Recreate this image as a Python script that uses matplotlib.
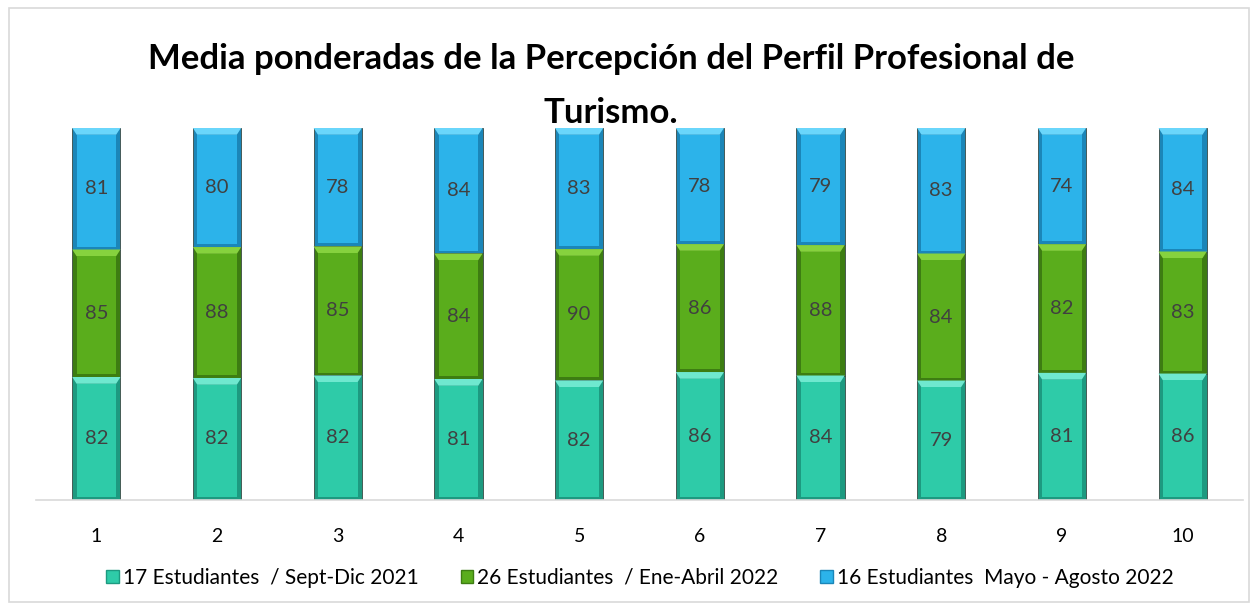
import matplotlib
matplotlib.use("Agg")
import matplotlib.pyplot as plt
from matplotlib.patches import Rectangle, Patch, Polygon
import numpy as np

categories = ["1", "2", "3", "4", "5", "6", "7", "8", "9", "10"]
sept_dic_2021 = [82, 82, 82, 81, 82, 86, 84, 79, 81, 86]
ene_abril_2022 = [85, 88, 85, 84, 90, 86, 88, 84, 82, 83]
mayo_agosto_2022 = [81, 80, 78, 84, 83, 78, 79, 83, 74, 84]
series_names = ["17 Estudiantes  / Sept-Dic 2021",
                "26 Estudiantes  / Ene-Abril 2022",
                "16 Estudiantes  Mayo - Agosto 2022"]
title_text = "Media ponderadas de la Percepción del Perfil Profesional de\nTurismo."

colors = ["#2ecba8", "#5aad1c", "#2cb3ea"]
light = ["#6fe8cf", "#86d23e", "#6ad6fb"]
dark = ["#1d9a80", "#3d7d12", "#1b86b8"]

plt.rcParams['font.family'] = ['Lato', 'DejaVu Sans']

fig = plt.figure(figsize=(12.56, 6.09), dpi=100)
fig.patches.append(Rectangle((9/1256, 7/609), 1240/1256, 594/609, transform=fig.transFigure,
                             fill=False, edgecolor="#d9d9d9", linewidth=1.2))

ax = fig.add_axes([36/1256, 1 - 500/609, (1243-36)/1256, (500-128)/609])
data = np.array([sept_dic_2021, ene_abril_2022, mayo_agosto_2022], dtype=float)
totals = data.sum(axis=0)
frac = data / totals
x = np.arange(len(categories))
w = 0.40
bottom = np.zeros(len(categories))
for i in range(3):
    bars = ax.bar(x, frac[i], w, bottom=bottom, color=dark[i], edgecolor="#3a4a44",
                  linewidth=0.6, label=series_names[i], zorder=2)
    for j, b in enumerate(bars):
        bx = b.get_x(); by = b.get_y(); bh = b.get_height(); bw = b.get_width()
        inx = bw * 0.09
        top_in = 0.018
        bot_in = 0.008
        ax.add_patch(Polygon([(bx, by + bh), (bx + bw, by + bh),
                              (bx + bw - inx, by + bh - top_in), (bx + inx, by + bh - top_in)],
                             closed=True, facecolor=light[i], edgecolor="none", zorder=3))
        ax.add_patch(Rectangle((bx + inx, by + bot_in), bw - 2 * inx, bh - top_in - bot_in,
                               facecolor=colors[i], edgecolor="none", zorder=3))
        ax.text(bx + bw/2, by + bh/2, f"{int(data[i, j])}", ha="center", va="center",
                fontsize=14.5, color="#404040", zorder=4)
    bottom += frac[i]

ax.set_xlim(-0.5, 9.5)
ax.set_ylim(0, 1)
ax.set_yticks([])
ax.set_xticks(x)
ax.set_xticklabels(categories, fontsize=14, color="#000000")
ax.tick_params(axis="x", length=0, pad=20)
for s in ["top", "left", "right"]:
    ax.spines[s].set_visible(False)
ax.spines["bottom"].set_color("#d9d9d9")
ax.spines["bottom"].set_linewidth(1.2)

fig.text(611/1256, 1 - 86/609, title_text, ha="center", va="center", fontsize=25,
         fontweight="bold", color="#000000", linespacing=1.82)

handles = [Patch(facecolor=colors[i], edgecolor=dark[i]) for i in range(3)]
fig.legend(handles, series_names, loc="center", bbox_to_anchor=(640/1256, 1 - 578/609),
           ncol=3, frameon=False, fontsize=15, handlelength=0.6, handleheight=0.6,
           handletextpad=0.2, columnspacing=2.0)

fig.savefig("out.png", dpi=100)
